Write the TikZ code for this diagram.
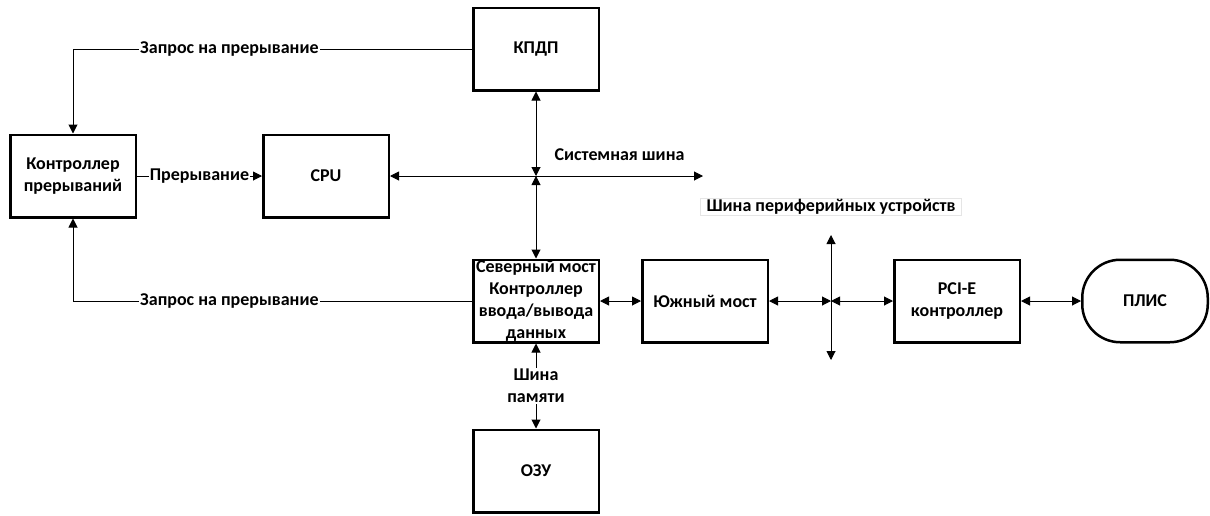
\documentclass[tikz,border=0pt]{standalone}
\usepackage{fontspec}
\setmainfont{Carlito}
\usepackage{tikz}
\usetikzlibrary{positioning, arrows.meta}

\begin{document}
\begin{tikzpicture}[x=1pt, y=1pt, on grid, line width=1pt,
        font=\bfseries\fontsize{18}{22}\selectfont,
        >={Triangle[length=9pt, width=9pt]},
        block/.style={draw, line width=2.5pt, minimum width=125.5pt, minimum height=82.5pt, inner sep=0pt, align=center},
        tag/.style={fill=white, inner sep=1pt, anchor=center, align=center}]
        \path[use as bounding box] (0,0) rectangle (1210,-515);

        \node[block] (nb) at (536,-301) {Северный мост\\Контроллер\\ввода/вывода\\данных};
        \node[block] (kpdp) [above=252pt of nb] {КПДП};
        \node[block] (ozu) [below=170pt of nb] {ОЗУ};
        \node[block] (sb) [right=169pt of nb] {Южный мост};
        \node[block] (pci) [right=252pt of sb] {PCI-E\\контроллер};
        \node[block, rounded corners=38pt] (plis) [right=188pt of pci] {ПЛИС};
        \node[block] (ctrl) at (73,-176) {Контроллер\\прерываний};
        \node[block] (cpu) [right=253pt of ctrl] {CPU};

        % system bus and peripheral bus
        \coordinate (sys) at (kpdp |- cpu);
        \coordinate[right=167pt of sys] (sysend);
        \coordinate[right=126pt of sb] (pbus);
        \coordinate[above=66pt of pbus] (pbtop);
        \coordinate[below=59pt of pbus] (pbbot);
        \node[draw=gray!20, line width=0.6pt, inner xsep=6pt, inner ysep=1pt] (pblabel) [above=85pt of pbus] {Шина периферийных устройств};
        \path (sys) -- node[above=12pt] (sysbus) {Системная шина} (sysend);

        \path[<->]
        (kpdp) edge (sys)
        (sys) edge (nb)
        (cpu) edge (sysend)
        (nb) edge (sb)
        (sb) edge (pbus)
        (pbus) edge (pci)
        (pbtop) edge (pbbot)
        (pci) edge (plis)
        (nb) edge node[tag] (membus) {Шина\\памяти} (ozu);

        \path[->]
        (ctrl) edge node[tag] (irq) {Прерывание} (cpu);

        % interrupt requests
        \draw[->] (kpdp) -| node[tag, pos=0.304] (irqa) {Запрос на прерывание} (ctrl);
        \draw[->] (nb) -| node[tag, pos=0.304] (irqb) {Запрос на прерывание} (ctrl);
\end{tikzpicture}
\end{document}
